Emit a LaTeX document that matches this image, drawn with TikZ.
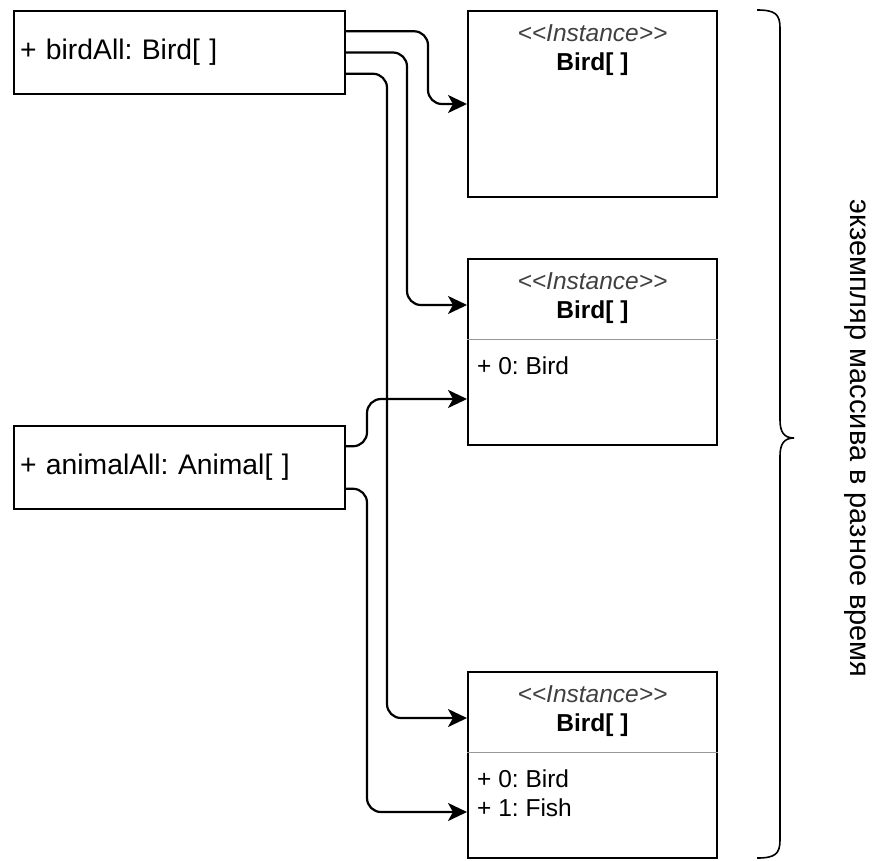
\documentclass[tikz,border=0pt]{standalone}
\usepackage{fontspec}
\setmainfont{Liberation Sans}[Ligatures=TeXOff]
\usetikzlibrary{calc,arrows.meta}
\frenchspacing
\tikzset{
  field/.style={draw,line width=2pt,minimum width=331pt,minimum height=83pt,inner sep=6pt,text width=319pt,align=left,font=\fontsize{28.3}{34}\selectfont},
  inst/.style={draw,line width=2pt,minimum width=249pt,minimum height=186pt},
  stereo/.style={font=\fontsize{24.5}{30}\selectfont\itshape,text=black!75},
  title/.style={font=\fontsize{24.5}{30}\selectfont\bfseries},
  item/.style={anchor=west,inner sep=0pt,font=\fontsize{24.5}{30}\selectfont},
  sep/.style={draw=black!40,line width=1pt},
  ref/.style={line width=2.2pt,rounded corners=14pt,-{Stealth[length=19pt,width=18pt,inset=5pt]}}
}
\newcommand{\header}[1]{
  \node[stereo] (#1s) at ([yshift=-23pt]#1.north) {<<Instance>>};
  \node[title] (#1t) at ([yshift=-54pt]#1.north) {Bird[ ]};
}

\begin{document}
\begin{tikzpicture}[x=1pt,y=-1pt]
  \useasboundingbox (0,0) rectangle (882,860);
  \node[field] (birdAll) at (179.5,52.5) {+ birdAll: Bird[ ]};
  \node[field] (animalAll) at (179.5,467.5) {+ animalAll: Animal[ ]};
  \node[inst] (inst1) at (592.5,104) {};
  \node[inst] (inst2) at (592.5,352) {};
  \node[inst] (inst3) at (592.5,765) {};
  \foreach \i in {inst1,inst2,inst3}{\header{\i}}
  \foreach \i in {inst2,inst3}{
    \draw[sep] ([yshift=-81pt]\i.north west) -- ([yshift=-81pt]\i.north east);
    \node[item] (\i a) at ([xshift=10pt,yshift=-108pt]\i.north west) {+ 0: Bird};
  }
  \node[item] (inst3b) at ([xshift=10pt,yshift=-137pt]inst3.north west) {+ 1: Fish};
  % references
  \foreach \src/\sf/\dx/\dst/\df in {birdAll/0.25/82/inst1/0.5,birdAll/0.5/61/inst2/0.25,birdAll/0.75/41/inst3/0.25,animalAll/0.25/21/inst2/0.75,animalAll/0.75/21/inst3/0.75}
    \draw[ref] ($(\src.north east)!\sf!(\src.south east)$) -- ++(\dx,0) |- ($(\dst.north west)!\df!(\dst.south west)$);
  % brace
  \draw[line width=1.6pt] (757,10) .. controls (775,10) and (780,14) .. (780,28) -- (780,420) .. controls (780,432) and (784,438) .. (794,438) .. controls (784,438) and (780,444) .. (780,456) -- (780,840) .. controls (780,854) and (775,858) .. (757,858);
  \node[rotate=-90,font=\fontsize{29}{34}\selectfont] (span) at (855,438.5) {экземпляр массива в разное время};
\end{tikzpicture}
\end{document}
